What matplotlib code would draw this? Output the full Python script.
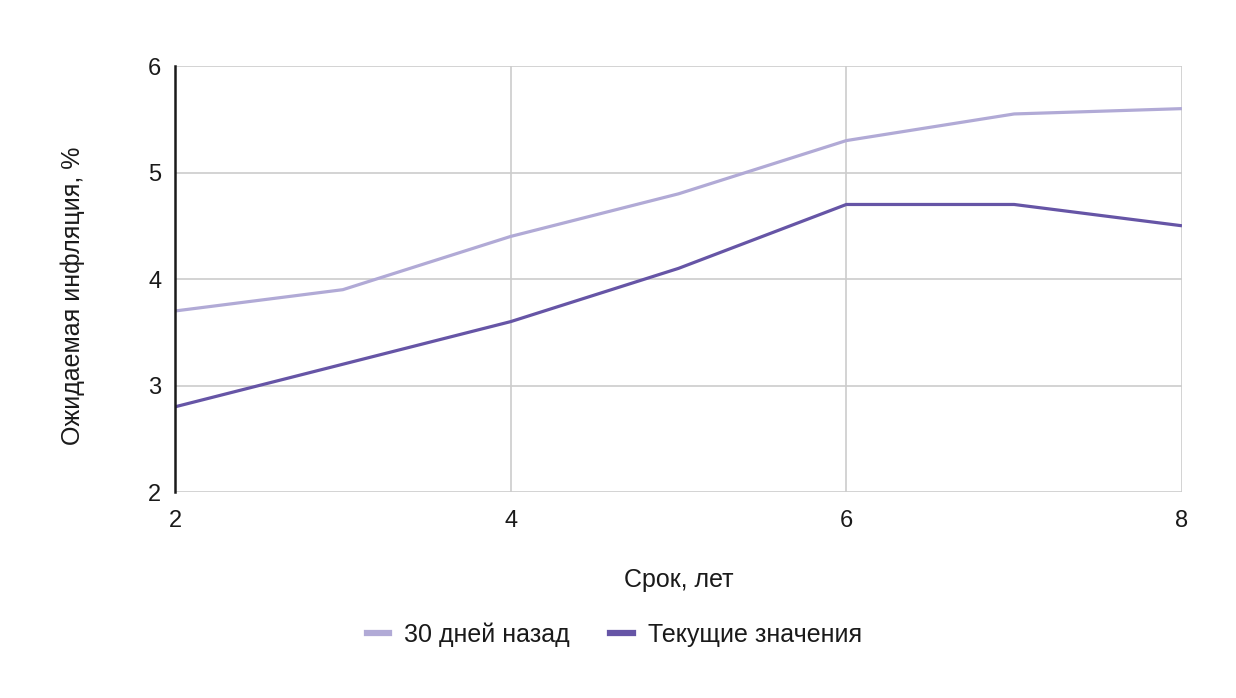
import matplotlib
matplotlib.use("Agg")
import matplotlib.pyplot as plt
from matplotlib.lines import Line2D

plt.rcParams["font.family"] = ["Liberation Sans", "DejaVu Sans"]

years = [2, 3, 4, 5, 6, 7, 8]
prev_30d = [3.7, 3.9, 4.4, 4.8, 5.3, 5.55, 5.6]
current = [2.8, 3.2, 3.6, 4.1, 4.7, 4.7, 4.5]
labels = ["30 дней назад", "Текущие значения"]

LIGHT = "#b1aad6"
DARK = "#6655a6"
TXT = "#1a1a1a"

fig = plt.figure(figsize=(12.36, 6.98), dpi=100)
ax = fig.add_axes([0.1416, 0.2951, 0.8147, 0.6103])

ax.plot(years, prev_30d, color=LIGHT, lw=2.3, solid_capstyle="butt")
ax.plot(years, current, color=DARK, lw=2.3, solid_capstyle="butt")

ax.set_xlim(2, 8)
ax.set_ylim(2, 6)
ax.set_xticks([2, 4, 6, 8])
ax.set_yticks([2, 3, 4, 5, 6])
ax.grid(True, color="#cccccc", lw=1.2)
ax.set_axisbelow(True)
for s in ["top", "right", "bottom"]:
    ax.spines[s].set_visible(False)
ax.spines["left"].set_color("#1a1a1a")
ax.spines["left"].set_linewidth(1.8)
ax.tick_params(length=0, labelsize=17, colors=TXT)
ax.tick_params(axis="x", pad=13)
ax.tick_params(axis="y", pad=10)

ax.set_xlabel("Срок, лет", fontsize=18, color=TXT, labelpad=26)
ax.set_ylabel("Ожидаемая инфляция, %", fontsize=18, color=TXT)
ax.yaxis.set_label_coords(-0.089, 0.46)

handles = [Line2D([], [], color=LIGHT, lw=4.5), Line2D([], [], color=DARK, lw=4.5)]
fig.legend(handles, labels, loc="center", bbox_to_anchor=(0.497, 0.091), ncol=2,
           frameon=False, fontsize=18, handlelength=0.9, columnspacing=1.6,
           handletextpad=0.6, labelcolor=TXT)

fig.savefig("out.png", dpi=100)
